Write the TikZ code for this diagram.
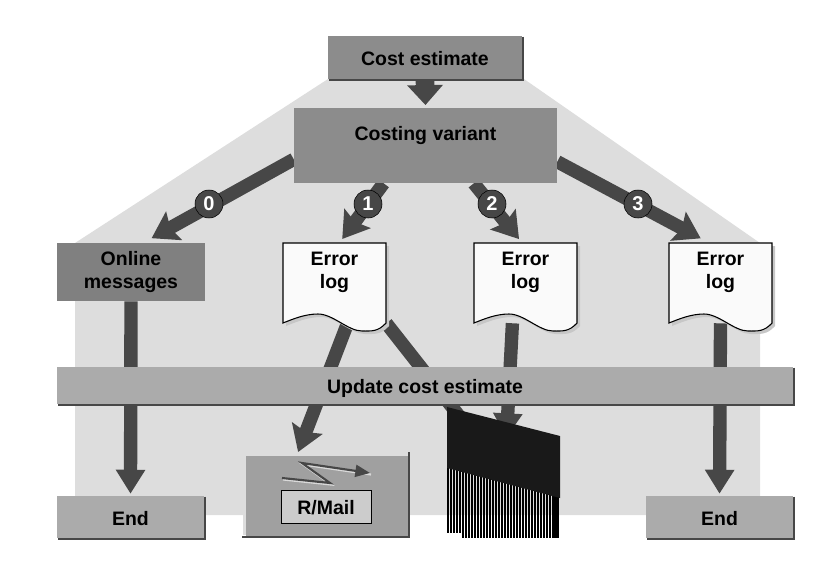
\documentclass[tikz,border=0pt]{standalone}
\usepackage{fontspec}
\setmainfont{Liberation Sans}
\usetikzlibrary{arrows.meta,positioning,backgrounds}

\definecolor{housegray}{HTML}{DDDDDD}
\definecolor{boxgray}{HTML}{8C8C8C}
\definecolor{onlinegray}{HTML}{808080}
\definecolor{endgray}{HTML}{ABABAB}
\definecolor{bargray}{HTML}{ABABAB}
\definecolor{mailgray}{HTML}{A0A0A0}
\definecolor{labelgray}{HTML}{CCCCCC}
\definecolor{flowgray}{HTML}{474747}
\definecolor{sheetwhite}{HTML}{FAFAFA}

\tikzset{
	txt/.style = {font=\fontsize{14.6}{17.5}\selectfont\bfseries, align=center, text=black},
	box/.style = {txt, rectangle, inner sep=0pt},
	oneline/.style = {text height=12pt, text depth=0pt},
	sheet/.style = {rectangle, inner sep=0pt, minimum width=77.25pt, minimum height=60pt},
	flow/.style = {draw=flowgray, line width=10pt, -{Triangle[length=18pt,width=21pt]}},
	slant/.style = {draw=flowgray, line width=10pt, -{Stealth[length=19pt,width=24pt,inset=3pt]}},
	badge/.style = {circle, draw=black, fill=flowgray, text=white, minimum size=21pt, inner sep=0pt,
		font=\fontsize{15}{15}\selectfont\bfseries},
	edge/.style = {draw=flowgray, line width=1pt},
}

\begin{document}
\begin{tikzpicture}[x=0.75pt,y=-0.75pt]
	\useasboundingbox (0,0) rectangle (834,561);

	% boxes
	\node[box, oneline, fill=boxgray, minimum width=145.5pt, minimum height=32.25pt] (cost) at (425,57.5) {Cost estimate};
	\node[box, fill=boxgray, minimum width=197.25pt, text height=24.5pt, text depth=31.75pt] (variant) at (425.5,145.5) {Costing variant};
	\node[box, fill=onlinegray, minimum width=111pt, minimum height=43.5pt] (online) at (131,272) {Online\\messages};
	\node[box, oneline, fill=bargray, minimum width=552pt, minimum height=27.75pt] (update) at (425,385.5) {Update cost estimate};
	\node[box, oneline, fill=endgray, minimum width=110.25pt, minimum height=31.5pt] (endl) at (130.5,517) {End};
	\node[box, oneline, fill=endgray, minimum width=110.25pt, minimum height=31.5pt] (endr) at (719.5,517) {End};

	\foreach \b in {cost,update,endl,endr}
		\draw[edge] ([xshift=0.6pt,yshift=-0.6pt]\b.north east) -- ([xshift=0.6pt,yshift=-0.6pt]\b.south east) -- ([xshift=0.6pt,yshift=-0.6pt]\b.south west);

	% error logs
	\foreach \n/\x in {1/283,2/474,3/669}{
		\fill[black!22, shift={(3,3)}] (\x,243) -- (\x+103,243) -- (\x+103,323)
			.. controls (\x+95,332) and (\x+88,331) .. (\x+79,331)
			.. controls (\x+65,331) and (\x+50,314) .. (\x+35,314)
			.. controls (\x+22,314) and (\x+10,319) .. (\x,323) -- cycle;
		\draw[fill=sheetwhite, line width=0.8pt] (\x,243) -- (\x+103,243) -- (\x+103,323)
			.. controls (\x+95,332) and (\x+88,331) .. (\x+79,331)
			.. controls (\x+65,331) and (\x+50,314) .. (\x+35,314)
			.. controls (\x+22,314) and (\x+10,319) .. (\x,323) -- cycle;
		\node[sheet] (doc\n) at (\x+51.5,283) {};
		\node[txt, below=3.5pt of doc\n.north] (doctext\n) {Error\\log};
	}

	% mail
	\node[box, fill=mailgray, minimum width=121.5pt, minimum height=60pt] (mail) at (327,496) {};
	\fill[housegray] (243,456) rectangle (246,535);
	\draw[draw=flowgray, line width=2.2pt] (409,452) -- (409,537) -- (242,537);
	\draw[white!85!black, line width=1.6pt, shift={(1,1.5)}]
		(282,478) -- (330,483) -- (302,463) -- (370,473);
	\draw[draw=flowgray, line width=1.6pt, -{Triangle[length=11pt,width=9pt]}]
		(282,478) -- (330,483) -- (302,463) -- (370,473);
	\node[box, oneline, draw=black, fill=labelgray, minimum width=67.5pt, minimum height=24.75pt] (rmail) at (326,506.5) {R/Mail};

	% printer
	\node[rectangle, inner sep=0pt, minimum width=84.75pt, minimum height=98.25pt] (printer) at (503.5,472.5) {};
	\foreach \s in {448,451,...,460}
		\draw[line width=1.6pt] (\s,460) -- (\s,533);
	\foreach \s in {463,466,...,553}
		\draw[line width=1.6pt] (\s,460) -- (\s,538);
	\fill[black] (553,470) rectangle (559,538);
	\fill[black!90] (447,407) -- (560,436) -- (560,498) -- (447,468) -- cycle;

	% numbers
	\node[badge] (zero) at (209,204) {0};
	\node[badge] (one) at (368,204) {1};
	\node[badge] (two) at (492,204) {2};
	\node[badge] (three) at (638,204) {3};

	\begin{scope}[on background layer]
		\fill[housegray] (328,79) -- (524,79) -- (760,243) -- (760,515) -- (75,515) -- (75,243) -- cycle;

		\draw[flowgray, line width=14pt, -{Triangle[length=15pt,width=26pt]}, shorten >=2pt] (cost.south) -- (variant.north);

		\draw[slant, shorten >=7pt] (variant.186.3) -- (online.67.5);
		\draw[slant, shorten >=3.5pt] (variant.222.8) -- (doc1.83.6);
		\draw[slant, shorten >=3.5pt] (variant.322.9) -- (doc2.95);
		\draw[slant, shorten >=7pt] (variant.353.7) -- (doc3.106);

		\draw[flow, shorten >=1.5pt] (online.south) -- (endl.north);
		\draw[slant, shorten >=3pt] (doc1.288.7) -- (mail.127.3);
		\draw[slant] (doc1.south east) -- (printer.center);
		\draw[flow, shorten >=-23pt] (doc2.252) -- (printer.86);
		\draw[flow, shorten >=1.5pt] (doc3.south) -- (endr.north);
	\end{scope}
\end{tikzpicture}
\end{document}
